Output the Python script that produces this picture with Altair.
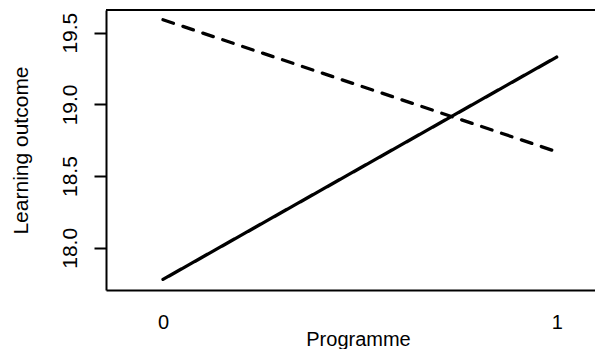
import altair as alt
import pandas as pd

# Data
programme = [0, 1]
group_solid = [17.78, 19.33]
group_dashed = [19.59, 18.67]
group_names = ["Group A", "Group B"]
y_ticks = [18.0, 18.5, 19.0, 19.5]
x_ticks = [0, 1]

rows = []
for p, v in zip(programme, group_solid):
    rows.append({"Programme": p, "Outcome": v, "Group": group_names[0]})
for p, v in zip(programme, group_dashed):
    rows.append({"Programme": p, "Outcome": v, "Group": group_names[1]})
df = pd.DataFrame(rows)

W = 489
H = 280
FONT = "Liberation Sans"
FSX = 20
FSY = 21

x_scale = alt.Scale(domain=[-0.1448, 1.0973], nice=False, zero=False)
y_scale = alt.Scale(domain=[17.706, 19.658], nice=False, zero=False)

lines = alt.Chart(df).mark_line(strokeWidth=3.3, color="black", strokeCap="round").encode(
    x=alt.X(
        "Programme:Q",
        scale=x_scale,
        axis=alt.Axis(
            values=x_ticks,
            format="d",
            ticks=False,
            tickSize=0,
            grid=False,
            labelPadding=38,
            labelBaseline="alphabetic",
            labelFontSize=FSX,
            labelFont=FONT,
            labelColor="black",
            domainColor="black",
            domainWidth=2,
            title="Programme",
            titleFont=FONT,
            titleFontSize=FSX,
            titleFontWeight="normal",
            titleColor="black",
            titleX=252,
            titleY=55,
            titleAlign="center",
            titleBaseline="alphabetic",
        ),
    ),
    y=alt.Y(
        "Outcome:Q",
        scale=y_scale,
        axis=alt.Axis(
            values=y_ticks,
            format=".1f",
            grid=False,
            tickSize=12,
            tickWidth=2,
            tickColor="black",
            labelAngle=270,
            labelAlign="center",
            labelBaseline="alphabetic",
            labelPadding=18,
            labelFontSize=FSY,
            labelFont=FONT,
            labelColor="black",
            domainColor="black",
            domainWidth=2,
            title="Learning outcome",
            titleFont=FONT,
            titleFontSize=FSY,
            titleFontWeight="normal",
            titleColor="black",
            titleX=-79,
            titleY=140,
            titleAngle=270,
            titleAlign="center",
            titleBaseline="alphabetic",
        ),
    ),
    strokeDash=alt.StrokeDash(
        "Group:N",
        scale=alt.Scale(domain=group_names, range=[[1, 0], [11, 10]]),
        legend=None,
    ),
    detail="Group:N",
)

top_border = alt.Chart(df).mark_rule(color="black", strokeWidth=2).encode(
    x=alt.value(0), x2=alt.value(W), y=alt.value(0)
)

chart = (
    alt.layer(lines, top_border)
    .properties(
        width=W,
        height=H,
        padding={"left": 98, "top": 2, "right": 0, "bottom": 59},
        autosize=alt.AutoSizeParams(type="none"),
        background="white",
    )
    .configure_view(stroke=None)
)

chart.save("out.html", embed_options={"renderer": "svg", "actions": False})
